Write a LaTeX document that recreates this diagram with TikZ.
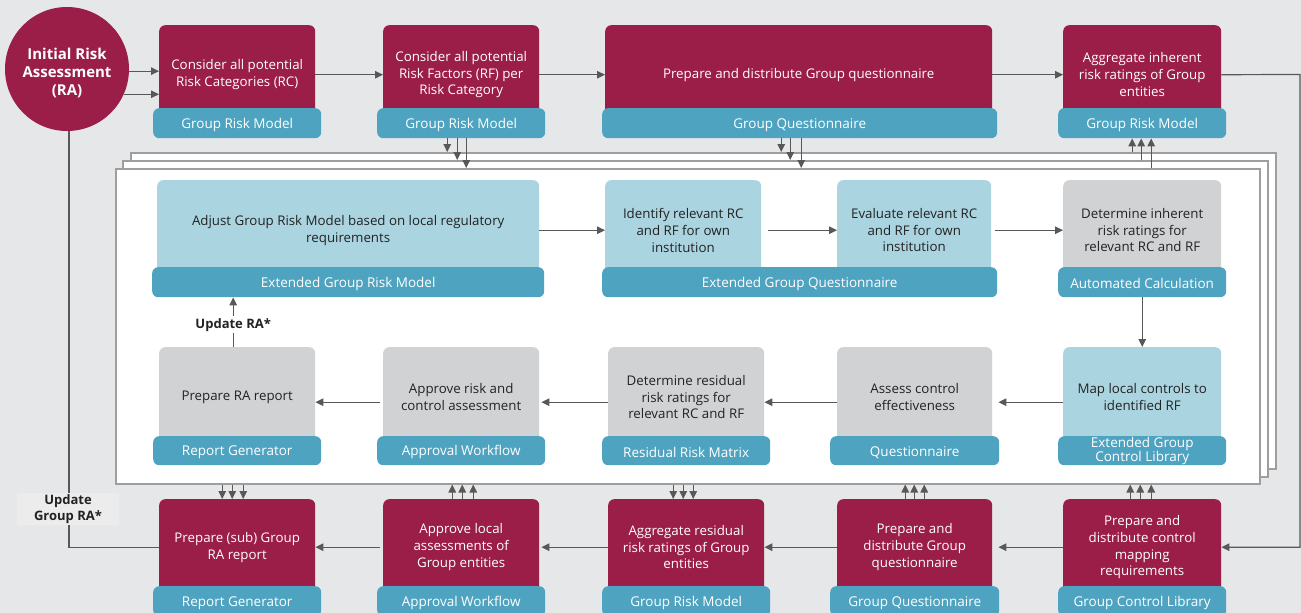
\documentclass[tikz,border=0pt]{standalone}
\usepackage{fontspec}
\setmainfont{Open Sans}
\usetikzlibrary{arrows.meta}
\definecolor{bgc}{HTML}{E6E7E9}
\definecolor{crim}{HTML}{9B1E48}
\definecolor{tealc}{HTML}{4EA3C0}
\definecolor{lblue}{HTML}{ABD4E1}
\definecolor{gbox}{HTML}{D1D2D4}
\definecolor{txt}{HTML}{222222}
\definecolor{linec}{HTML}{585858}
\definecolor{panelc}{HTML}{9E9E9E}
\definecolor{lbg}{HTML}{ECECEC}
\tikzset{
  bodyb/.style={rectangle, rounded corners=6pt, anchor=north west, inner sep=0pt, align=center, font=\fontsize{13.3}{16.8}\selectfont},
  crimbox/.style={bodyb, fill=crim, text=white},
  lbbox/.style={bodyb, fill=lblue, text=txt},
  grbox/.style={bodyb, fill=gbox, text=txt},
  tagbox/.style={rectangle, rounded corners=6pt, anchor=north west, inner sep=0pt, align=center, fill=tealc, text=white, text height=13.7pt, font=\fontsize{13.5}{13}\selectfont},
  panelbox/.style={rectangle, anchor=north west, fill=white, draw=panelc, line width=1.5pt, inner sep=0pt},
  conn/.style={draw=linec, line width=1.2pt, -{Triangle[length=8pt,width=7.5pt]}},
  plainline/.style={draw=linec, line width=1.2pt},
  boldlbl/.style={font=\bfseries\fontsize{13}{16.5}\selectfont, text=txt, align=center},
}
\begin{document}
\begin{tikzpicture}[x=1pt,y=-1pt]
\clip (0,0) rectangle (1301,613);
\fill[bgc] (0,0) rectangle (1301,613);

% stacked panels
\node[panelbox, minimum width=1145pt, minimum height=316pt] (back) at (130,152) {};
\node[panelbox, minimum width=1145pt, minimum height=316pt] (mid) at (122,160) {};
\node[panelbox, minimum width=1144pt, minimum height=315pt] (front) at (115,168) {};

% circle
\node[circle, fill=crim, minimum size=124pt, inner sep=0pt, text=white, align=center, text height=55pt, font=\bfseries\fontsize{15}{18}\selectfont] (ra) at (67,69) {Initial Risk\\Assessment\\(RA)};

% top row
\node[crimbox, minimum width=156pt, minimum height=99pt] (a) at (159,25) {Consider all potential\\Risk Categories (RC)};
\node[tagbox, minimum width=168pt, minimum height=30pt] (ta) at (153,108) {Group Risk Model};
\node[crimbox, minimum width=156pt, minimum height=99pt] (b) at (383,25) {Consider all potential\\Risk Factors (RF) per\\Risk Category};
\node[tagbox, minimum width=168pt, minimum height=30pt] (tb) at (377,108) {Group Risk Model};
\node[crimbox, minimum width=387pt, minimum height=99pt] (c) at (605,25) {Prepare and distribute Group questionnaire};
\node[tagbox, minimum width=395pt, minimum height=30pt] (tc) at (602,108) {Group Questionnaire};
\node[crimbox, minimum width=158pt, minimum height=99pt] (d) at (1063,25) {Aggregate inherent\\risk ratings of Group\\entities};
\node[tagbox, minimum width=168pt, minimum height=30pt] (td) at (1058,108) {Group Risk Model};

% inner row 1
\node[lbbox, minimum width=382pt, minimum height=100pt] (e) at (157,180) {Adjust Group Risk Model based on local regulatory\\requirements};
\node[tagbox, minimum width=392pt, minimum height=30pt] (te) at (152,267) {Extended Group Risk Model};
\node[lbbox, minimum width=156pt, minimum height=100pt] (f) at (605,180) {Identify relevant RC\\and RF for own\\institution};
\node[lbbox, minimum width=154pt, minimum height=100pt] (g) at (837,180) {Evaluate relevant RC\\and RF for own\\institution};
\node[tagbox, minimum width=395pt, minimum height=30pt] (tfg) at (602,267) {Extended Group Questionnaire};
\node[grbox, minimum width=158pt, minimum height=100pt] (h) at (1063,180) {Determine inherent\\risk ratings for\\relevant RC and RF};
\node[tagbox, minimum width=168pt, minimum height=30pt] (th) at (1058,267) {Automated Calculation};

% inner row 2
\node[grbox, minimum width=156pt, minimum height=100pt] (i) at (159,347) {Prepare RA report};
\node[tagbox, minimum width=168pt, minimum height=29pt] (ti) at (153,436) {Report Generator};
\node[grbox, minimum width=156pt, minimum height=100pt] (j) at (383,347) {Approve risk and\\control assessment};
\node[tagbox, minimum width=168pt, minimum height=29pt] (tj) at (377,436) {Approval Workflow};
\node[grbox, minimum width=156pt, minimum height=100pt] (k) at (608,347) {Determine residual\\risk ratings for\\relevant RC and RF};
\node[tagbox, minimum width=168pt, minimum height=29pt] (tk) at (602,436) {Residual Risk Matrix};
\node[grbox, minimum width=155pt, minimum height=100pt] (l) at (837,347) {Assess control\\effectiveness};
\node[tagbox, minimum width=169pt, minimum height=29pt] (tl) at (830,436) {Questionnaire};
\node[lbbox, minimum width=158pt, minimum height=100pt] (m) at (1063,347) {Map local controls to\\identified RF};
\node[tagbox, minimum width=168pt, minimum height=29pt, text height=25.7pt] (tm) at (1058,436) {Extended Group\\Control Library};

% bottom row
\node[crimbox, minimum width=156pt, minimum height=96pt] (n) at (159,499) {Prepare (sub) Group\\RA report};
\node[tagbox, minimum width=168pt, minimum height=30pt] (tn) at (153,586) {Report Generator};
\node[crimbox, minimum width=156pt, minimum height=96pt] (o) at (383,499) {Approve local\\assessments of\\Group entities};
\node[tagbox, minimum width=168pt, minimum height=30pt] (to) at (377,586) {Approval Workflow};
\node[crimbox, minimum width=156pt, minimum height=96pt] (p) at (608,499) {Aggregate residual\\risk ratings of Group\\entities};
\node[tagbox, minimum width=168pt, minimum height=30pt] (tp) at (602,586) {Group Risk Model};
\node[crimbox, minimum width=155pt, minimum height=96pt] (q) at (837,499) {Prepare and\\distribute Group\\questionnaire};
\node[tagbox, minimum width=169pt, minimum height=30pt] (tq) at (830,586) {Group Questionnaire};
\node[crimbox, minimum width=158pt, minimum height=96pt] (r) at (1063,499) {Prepare and\\distribute control\\mapping\\requirements};
\node[tagbox, minimum width=168pt, minimum height=30pt] (tr) at (1058,586) {Group Control Library};

% top row connectors
\draw[conn] (ra.-2) -- (ra.-2 -| a.west);
\draw[conn] (ra.-24) -- (ra.-24 -| a.west);
\draw[conn] (a.east) -- (b.west);
\draw[conn] (b.east) -- (c.west);
\draw[conn] (c.east) -- (d.west);
\coordinate (rt) at (1300,74.5);
\draw[conn] (d.east) -- (rt) |- (r.east);

% triple arrows top
\draw[conn] ([xshift=-14pt]tb.south) -- ([xshift=-14pt]tb.south |- back.north);
\draw[conn] ([xshift=-4pt]tb.south) -- ([xshift=-4pt]tb.south |- mid.north);
\draw[conn] ([xshift=5pt]tb.south) -- ([xshift=5pt]tb.south |- front.north);
\draw[conn] ([xshift=-18.5pt]tc.south) -- ([xshift=-18.5pt]tc.south |- back.north);
\draw[conn] ([xshift=-9.5pt]tc.south) -- ([xshift=-9.5pt]tc.south |- mid.north);
\draw[conn] ([xshift=1.5pt]tc.south) -- ([xshift=1.5pt]tc.south |- front.north);
\draw[conn] ([xshift=-10pt]td.south |- back.north) -- ([xshift=-10pt]td.south);
\draw[conn] ([xshift=-1pt]td.south |- mid.north) -- ([xshift=-1pt]td.south);
\draw[conn] ([xshift=9pt]td.south |- front.north) -- ([xshift=9pt]td.south);

% inner row 1 connectors
\draw[conn] (e.east) -- (f.west);
\draw[conn] ([xshift=7pt]f.east) -- (g.west);
\draw[conn] ([xshift=4pt]g.east) -- (h.west);
\draw[conn] (th.south) -- (m.north);

% inner row 2 connectors
\draw[conn] ([yshift=-5pt]m.west) -- ([yshift=-5pt,xshift=6pt]l.east);
\draw[conn] ([yshift=-5pt]l.west) -- ([yshift=-5pt]k.east);
\draw[conn] ([yshift=-5pt]k.west) -- ([yshift=-5pt,xshift=2pt]j.east);
\draw[conn] ([yshift=-5pt,xshift=-3pt]j.west) -- ([yshift=-5pt]i.east);
\draw[conn] ([xshift=-4pt]i.north) -- ([xshift=-4pt]i.north |- te.south)
  node[pos=0.45, fill=white, inner sep=2pt, boldlbl] (ura) {Update RA*};

% bottom row connectors
\draw[conn] (r.west) -- ([xshift=6pt]q.east);
\draw[conn] (q.west) -- (p.east);
\draw[conn] (p.west) -- ([xshift=2pt]o.east);
\draw[conn] ([xshift=-3pt]o.west) -- (n.east);
\draw[plainline] (n.west) -| ([xshift=2pt]ra.south);
\node[fill=lbg, minimum width=102pt, minimum height=32pt, inner sep=0pt, boldlbl] (ugr) at (68,509) {Update\\Group RA*};

% triple arrows bottom
\draw[conn] ([xshift=-15pt]n.north |- front.south) -- ([xshift=-15pt]n.north);
\draw[conn] ([xshift=-5pt]n.north |- front.south) -- ([xshift=-5pt]n.north);
\draw[conn] ([xshift=6pt]n.north |- front.south) -- ([xshift=6pt]n.north);
\draw[conn] ([xshift=-9pt]o.north) -- ([xshift=-9pt]o.north |- front.south);
\draw[conn] ([xshift=1pt]o.north) -- ([xshift=1pt]o.north |- front.south);
\draw[conn] ([xshift=12pt]o.north) -- ([xshift=12pt]o.north |- front.south);
\draw[conn] ([xshift=-13pt]p.north |- front.south) -- ([xshift=-13pt]p.north);
\draw[conn] ([xshift=-3pt]p.north |- front.south) -- ([xshift=-3pt]p.north);
\draw[conn] ([xshift=7pt]p.north |- front.south) -- ([xshift=7pt]p.north);
\draw[conn] ([xshift=-9.5pt]q.north) -- ([xshift=-9.5pt]q.north |- front.south);
\draw[conn] ([xshift=-0.5pt]q.north) -- ([xshift=-0.5pt]q.north |- front.south);
\draw[conn] ([xshift=9.5pt]q.north) -- ([xshift=9.5pt]q.north |- front.south);
\draw[conn] ([xshift=-12pt]r.north) -- ([xshift=-12pt]r.north |- front.south);
\draw[conn] ([xshift=-2pt]r.north) -- ([xshift=-2pt]r.north |- front.south);
\draw[conn] ([xshift=9pt]r.north) -- ([xshift=9pt]r.north |- front.south);
\end{tikzpicture}
\end{document}
